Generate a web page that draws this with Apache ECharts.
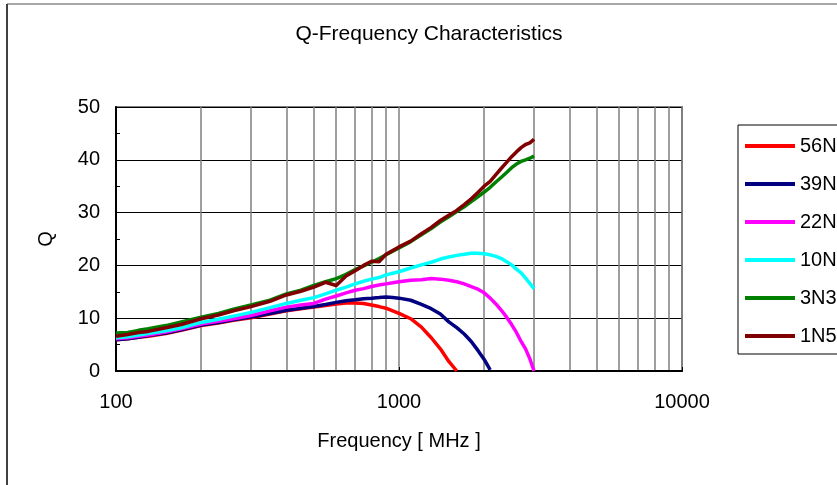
<!DOCTYPE html>
<html>
<head>
<meta charset="utf-8">
<script src="https://cdn.jsdelivr.net/npm/echarts@6/dist/echarts.min.js"></script>
<style>
html,body{margin:0;padding:0;background:#fff;}
#chart{width:837px;height:485px;}
</style>
</head>
<body>
<div id="chart"></div>
<script>
// Frequency grid (MHz)
const freqMHz = [100,110,120,130,150,170,200,230,260,300,350,400,450,500,550,600,650,700,750,800,850,900,950,1000,
  1100,1200,1300,1400,1500,1600,1700,1800,1900,2000,2100,2200,2300,2400,2500,2600,2700,2800,2900,3000];

const seriesNames = ['56N','39N','22N','10N','3N3','1N5'];
const seriesColors = ['#FF0000','#000080','#FF00FF','#00FFFF','#008000','#800000'];

// Q values
const q56N = [5.9,6.1,6.4,6.6,7.1,7.7,8.6,9.1,9.6,10.1,10.8,11.4,11.8,12.1,12.4,12.7,12.9,12.9,12.8,12.5,
  12.2,11.9,11.4,10.9,9.9,8.3,6.3,4.2,1.8,0.0];
const q39N = [5.9,6.1,6.4,6.7,7.2,7.8,8.7,9.2,9.7,10.2,10.9,11.5,11.9,12.2,12.6,13.0,13.3,13.5,13.7,13.8,
  13.9,14.0,13.9,13.8,13.4,12.6,11.8,10.8,9.3,8.2,7.0,5.6,3.9,2.2,0.2];
const q22N = [6.1,6.3,6.6,6.8,7.4,8.0,8.9,9.4,9.9,10.5,11.4,12.1,12.5,12.8,13.6,14.2,14.8,15.3,15.6,16.0,
  16.3,16.5,16.7,16.9,17.2,17.3,17.5,17.4,17.2,16.9,16.5,16.0,15.5,14.8,13.8,12.7,11.5,10.2,8.8,7.3,5.6,4.2,2.3,0.0];
const q10N = [6.3,6.5,6.8,7.1,7.6,8.2,9.2,9.8,10.4,11.1,12.0,12.8,13.4,13.9,14.6,15.3,15.9,16.5,17.0,17.4,
  17.7,18.2,18.5,18.8,19.5,20.1,20.6,21.2,21.6,21.9,22.1,22.3,22.3,22.2,22.0,21.7,21.3,20.7,20.1,19.3,18.6,17.6,16.6,15.6];
const q3N3 = [7.2,7.3,7.7,8.0,8.6,9.3,10.2,10.9,11.7,12.5,13.4,14.6,15.3,16.2,16.9,17.5,18.3,19.2,19.9,20.6,
  21.3,22.0,22.7,23.3,24.5,25.8,27.0,28.2,29.2,30.2,31.1,32.1,33.0,33.9,34.8,35.8,36.7,37.6,38.5,39.2,39.7,40.0,40.3,40.7];
const q1N5 = [6.6,6.9,7.3,7.5,8.2,8.8,9.9,10.6,11.4,12.2,13.2,14.4,15.1,15.9,16.8,16.2,18.0,19.0,20.0,20.8,
  20.7,22.1,22.8,23.5,24.6,26.0,27.2,28.5,29.5,30.4,31.5,32.6,33.8,35.0,35.9,37.2,38.4,39.5,40.6,41.5,42.3,42.9,43.2,43.9];

const qValues = [q56N,q39N,q22N,q10N,q3N3,q1N5];

const yTicks = [0,10,20,30,40,50];
const xTicks = [100,1000,10000];

const FONT = '"Liberation Sans", Arial, sans-serif';

const chart = echarts.init(document.getElementById('chart'), null, {renderer:'canvas'});

const series = seriesNames.map((name, i) => ({
  name: name,
  type: 'line',
  data: qValues[i].map((q, k) => [freqMHz[k], q]),
  showSymbol: false,
  symbol: 'none',
  smooth: false,
  lineStyle: { color: seriesColors[i], width: 3.5 },
  itemStyle: { color: seriesColors[i] },
  emphasis: { disabled: true },
  animation: false
}));

chart.setOption({
  animation: false,
  backgroundColor: '#fff',
  title: {
    text: 'Q-Frequency Characteristics',
    left: 429, top: 24, padding: 0, textAlign: 'center',
    textStyle: { fontFamily: FONT, fontSize: 21, fontWeight: 'normal', color: '#000' }
  },
  graphic: [
    { type: 'line', shape: { x1: 7, y1: 4, x2: 837, y2: 4 }, style: { stroke: '#a8a8a8', lineWidth: 2 } },
    { type: 'line', shape: { x1: 7, y1: 4, x2: 7, y2: 485 }, style: { stroke: '#404040', lineWidth: 2 } }
  ],
  legend: {
    orient: 'vertical',
    left: 738, top: 125,
    padding: [11, 60, 8, 7],
    itemWidth: 50, itemHeight: 14, itemGap: 18,
    icon: 'path://M0,0 L50,0 L50,4 L0,4 Z',
    borderColor: '#000', borderWidth: 1,
    textStyle: { fontFamily: FONT, fontSize: 20, color: '#000' },
    data: seriesNames
  },
  grid: {
    left: 116, top: 107, width: 566, height: 264,
    show: true, borderColor: '#808080', borderWidth: 2, backgroundColor: 'transparent',
    containLabel: false
  },
  xAxis: {
    type: 'log', logBase: 10, min: xTicks[0], max: xTicks[xTicks.length - 1],
    name: 'Frequency [ MHz ]', nameLocation: 'middle', nameGap: 60,
    nameTextStyle: { fontFamily: FONT, fontSize: 20, color: '#000' },
    axisLine: { lineStyle: { color: '#000', width: 2 } },
    axisTick: { show: true, inside: true, length: 4, lineStyle: { color: '#000' } },
    minorTick: { show: false, splitNumber: 9 },
    axisLabel: { fontFamily: FONT, fontSize: 20, color: '#000', margin: 21,
      formatter: function (v) { return String(Math.round(v)); } },
    splitLine: { show: true, lineStyle: { color: '#808080', width: 1.5 } },
    minorSplitLine: { show: true, lineStyle: { color: '#808080', width: 1.5 } }
  },
  yAxis: {
    type: 'value', min: yTicks[0], max: yTicks[yTicks.length - 1], interval: 10,
    name: 'Q', nameLocation: 'middle', nameGap: 60, nameRotate: 90,
    nameTextStyle: { fontFamily: FONT, fontSize: 20, color: '#000' },
    axisLine: { show: true, lineStyle: { color: '#000', width: 2 } },
    axisTick: { show: true, inside: true, length: 4, lineStyle: { color: '#000' } },
    minorTick: { show: true, splitNumber: 2, length: 4, lineStyle: { color: '#000' } },
    axisLabel: { fontFamily: FONT, fontSize: 20, color: '#000', margin: 16 },
    splitLine: { show: true, lineStyle: { color: '#000', width: 1 } }
  },
  series: series
});
</script>
</body>
</html>
